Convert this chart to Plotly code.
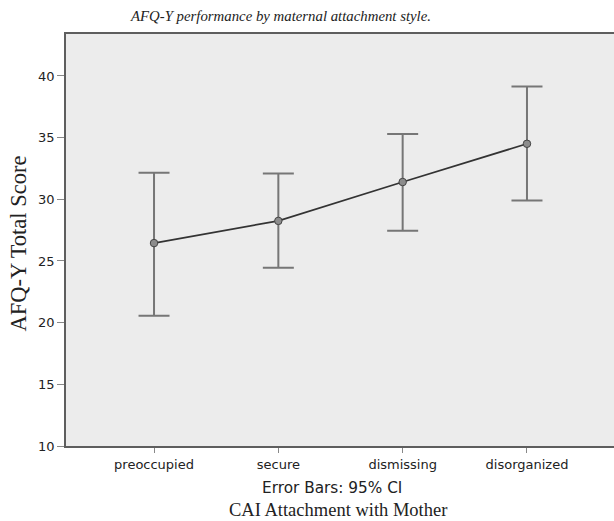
import plotly.graph_objects as go

categories = ["preoccupied", "secure", "dismissing", "disorganized"]
means = [26.45, 28.25, 31.4, 34.5]
upper = [32.15, 32.1, 35.3, 39.15]
lower = [20.55, 24.45, 27.45, 29.9]
y_ticks = [10, 15, 20, 25, 30, 35, 40]

err_plus = [u - m for u, m in zip(upper, means)]
err_minus = [m - l for m, l in zip(means, lower)]
xs = list(range(len(categories)))

SANS = "DejaVu Sans"
SERIF = "Liberation Serif"
W, H = 614, 521
L, T, B = 66, 34, 75
PW, PH = W - L, H - T - B

fig = go.Figure()
fig.add_trace(go.Scatter(
    x=xs, y=means, mode="lines+markers",
    line=dict(color="#333333", width=1.7),
    marker=dict(size=7.5, color="#8c8c8c", line=dict(color="#444444", width=1)),
    error_y=dict(type="data", symmetric=False, array=err_plus, arrayminus=err_minus,
                 color="#767676", thickness=2, width=15.5),
    showlegend=False,
))

fig.update_layout(
    width=W, height=H,
    margin=dict(l=L, r=0, t=T, b=B, autoexpand=False),
    paper_bgcolor="white",
    plot_bgcolor="#ececec",
    title=dict(text="<i>AFQ-Y performance by maternal attachment style.</i>",
               x=281 / W, xanchor="center", y=1 - 16 / H, yanchor="middle",
               font=dict(family=SERIF, size=14.8, color="#222")),
    xaxis=dict(range=[-0.708, 3.70], tickmode="array", tickvals=xs, ticktext=categories,
               showgrid=False, zeroline=False, showline=True, mirror=True,
               linecolor="#5e5e5e", linewidth=1.8, ticks="outside", ticklen=5,
               tickcolor="#888", tickwidth=1.2,
               tickfont=dict(family=SANS, size=13, color="#222")),
    yaxis=dict(range=[10, 43.4], tickmode="array", tickvals=y_ticks,
               showgrid=False, zeroline=False, showline=True, mirror=False,
               linecolor="#5e5e5e", linewidth=1.8, ticks="outside", ticklen=7,
               tickcolor="#888", tickwidth=1.2,
               tickfont=dict(family=SANS, size=13, color="#222")),
)

fig.add_annotation(text="AFQ-Y Total Score", xref="paper", yref="paper",
                   x=(17.5 - L) / PW, y=(T + PH - 244) / PH, xanchor="center", yanchor="middle",
                   textangle=-90, showarrow=False,
                   font=dict(family=SERIF, size=22.5, color="#222"))
fig.add_annotation(text="Error Bars: 95% CI", xref="paper", yref="paper",
                   x=(332 - L) / PW, y=(T + PH - 488) / PH, yanchor="middle", showarrow=False,
                   font=dict(family=SANS, size=15.3, color="#222"))
fig.add_annotation(text="CAI Attachment with Mother", xref="paper", yref="paper",
                   x=(338 - L) / PW, y=(T + PH - 510) / PH, yanchor="middle", showarrow=False,
                   font=dict(family=SERIF, size=18.5, color="#222"))

fig.write_html("out.html", config={"displayModeBar": False},
               post_script="document.body.style.margin='0';document.body.style.overflow='hidden';")
